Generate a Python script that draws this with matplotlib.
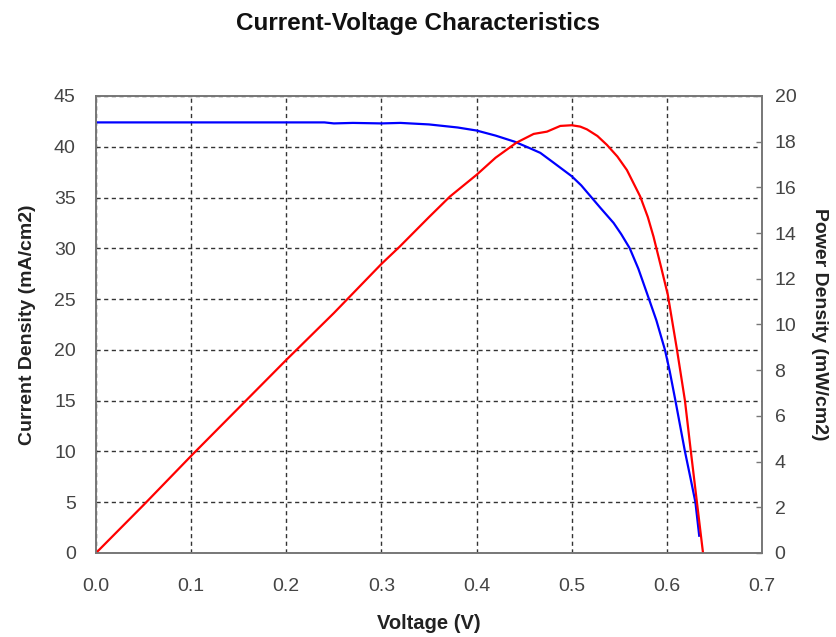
import matplotlib
matplotlib.use("Agg")
import matplotlib.pyplot as plt

plt.rcParams['font.family'] = ['Liberation Sans', 'DejaVu Sans']

# current density (mA/cm2) vs voltage (V)
v_current = [0.0, 0.05, 0.10, 0.15, 0.20, 0.24, 0.25, 0.27, 0.30, 0.32, 0.35, 0.38,
             0.40, 0.42, 0.44, 0.455, 0.467, 0.48, 0.49, 0.50, 0.51, 0.52, 0.53,
             0.544, 0.552, 0.561, 0.57, 0.579, 0.589, 0.598, 0.603, 0.609, 0.614,
             0.619, 0.625, 0.630, 0.634]
current = [42.4, 42.4, 42.4, 42.4, 42.4, 42.4, 42.3, 42.35, 42.3, 42.35, 42.2, 41.9,
           41.6, 41.1, 40.5, 39.9, 39.4, 38.5, 37.8, 37.1, 36.2, 35.1, 34.0,
           32.5, 31.4, 30.0, 28.0, 25.6, 22.9, 20.0, 17.9, 15.0, 12.5,
           10.0, 7.3, 5.0, 1.7]

# power density (mW/cm2) vs voltage (V)
v_power = [0.0, 0.05, 0.10, 0.15, 0.20, 0.25, 0.30, 0.319, 0.35, 0.372, 0.40, 0.42,
           0.442, 0.46, 0.474, 0.488, 0.50, 0.509, 0.516, 0.527, 0.537, 0.548,
           0.558, 0.572, 0.58, 0.586, 0.594, 0.601, 0.6105, 0.619, 0.6252,
           0.6316, 0.638]
power = [0.0, 2.1, 4.25, 6.35, 8.45, 10.5, 12.65, 13.4, 14.7, 15.6, 16.55, 17.3,
         17.96, 18.34, 18.44, 18.69, 18.72, 18.66, 18.54, 18.25, 17.86, 17.35,
         16.76, 15.6, 14.7, 13.84, 12.5, 11.3, 8.93, 6.67, 4.45,
         2.22, 0.0]

fig = plt.figure(figsize=(8.37, 6.37), dpi=100)
ax = fig.add_axes([0.1147, 0.1319, 0.7957, 0.7174])
ax2 = ax.twinx()

ax.plot(v_current, current, color='#0000ff', lw=1.6)
ax2.plot(v_power, power, color='#ff0000', lw=1.6)

ax.set_xlim(0, 0.7)
ax.set_ylim(0, 45)
ax2.set_ylim(0, 20)
ax.set_xticks([i / 10 for i in range(8)])
ax.set_xticklabels(['%.1f' % (i / 10) for i in range(8)])
ax.set_yticks(range(0, 50, 5))
ax2.set_yticks(range(0, 22, 2))

ax.grid(True, color='#333333', linestyle=(0, (3, 2.5)), lw=1.0)
ax.tick_params(axis='x', length=0, labelsize=14, colors='#444444', pad=18)
ax.tick_params(axis='y', length=0, labelsize=14, colors='#444444', pad=14.5)
ax2.tick_params(axis='y', direction='in', length=4, width=1, color='#777777',
                labelsize=14, labelcolor='#444444', pad=9)

for a in (ax, ax2):
    for s in a.spines.values():
        s.set_color('#777777')
        s.set_linewidth(1.2)

ax.set_xlabel('Voltage (V)', fontsize=14.5, fontweight='bold', color='#222222', labelpad=13.5)
ax.set_ylabel('Current Density (mA/cm2)', fontsize=14, fontweight='bold', color='#222222', labelpad=13)
ax2.set_ylabel('Power Density (mW/cm2)', fontsize=14, fontweight='bold', color='#222222',
               rotation=270, labelpad=23)

fig.text(0.5, 0.963, 'Current-Voltage Characteristics', ha='center', va='center',
         fontsize=17.5, fontweight='bold', color='#111111')

fig.savefig('out.png', dpi=100)
